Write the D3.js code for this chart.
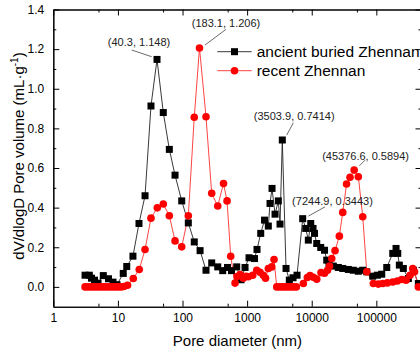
<!DOCTYPE html>
<html><head><meta charset="utf-8">
<script src="https://cdn.jsdelivr.net/npm/d3@7"></script>
<style>body{margin:0;background:#fff;overflow:hidden} svg{display:block;font-family:Arial,"Liberation Sans",sans-serif}</style>
</head><body><svg id="c" width="420" height="353"></svg>
<script>
// ---- data (pore diameter in nm, dV/dlogD in mL/g) ----
const ancientX = [3.10,3.61,3.90,4.34,4.92,5.94,7.15,8.40,9.68,12.1,13.7,17.1,21.2,26.3,32.5,40.3,50.4,62.5,76.6,97.2,123,152,187,231,283,351,419,497,573,690,804,928,1070,1302,1423,1624,1859,2129,2262,2429,2704,3041,3231,3503.9,4001,4501,5134,5921,7244.9,8074,8860,9650,10474,11050,11950,13780,15780,17070,18530,21600,25810,30200,36860,44060,52650,61600,71030,87970,103600,121200,144900,179500,201800,214500,227000,261800,312900,374000,446900];
const ancientY = [0.059,0.059,0.044,0.034,0.019,0.057,0.041,0.024,0.011,0.068,0.103,0.155,0.320,0.460,0.913,1.148,0.880,0.694,0.564,0.434,0.323,0.227,0.183,0.084,0.121,0.101,0.082,0.098,0.082,0.101,0.036,0.098,0.147,0.143,0.189,0.270,0.337,0.307,0.421,0.497,0.367,0.434,0.317,0.7414,0.093,0.034,0.046,0.059,0.3443,0.295,0.236,0.320,0.295,0.270,0.219,0.199,0.185,0.135,0.115,0.105,0.098,0.093,0.088,0.084,0.079,0.084,0.076,0.054,0.059,0.064,0.098,0.169,0.194,0.169,0.110,0.093,0.042,0.084,0.017];
const recentX = [3.10,3.44,3.83,4.27,4.75,5.28,5.88,6.54,7.28,8.10,9.02,10.0,11.2,12.4,14.1,17.3,21.4,26.3,32.5,40.7,50.4,62.5,76.6,97.2,123,152,183.1,231,283,351,431,489,557,650,698,777,873,962,1044,1221,1408,1584,1781,1927,2129,2403,2609,2872,3173,3507,3861,4251,4697,5191,5776,7413,8551,9412,10590,11950,13930,15780,17560,18860,20400,22950,26750,30200,34570,39160,45376.6,52650,61600,71030,89870,107400,125600,148100,179500,211400,247300,288300,332500,366000,390200,446900];
const recentY = [0,0,0,0,0,0,0,0,0,0,0,0,0,0.002,0.008,0.042,0.088,0.189,0.347,0.399,0.418,0.359,0.232,0.202,0.359,0.856,1.206,0.859,0.472,0.408,0.522,0.434,0.155,0.019,0.052,0.062,0.044,0.054,0.051,0.059,0.084,0.074,0.059,0.044,0.093,0.101,0.138,0,0,0,0,0,0,0,0,0.017,0.047,0.057,0.049,0.039,0.072,0.069,0.084,0.105,0.143,0.183,0.256,0.376,0.519,0.553,0.5894,0.556,0.354,0.076,0.017,0.014,0.017,0.020,0.025,0.030,0.037,0.034,0.059,0.093,0.076,0];
const seriesNames = ["ancient buried Zhennan", "recent Zhennan"];
const xTickValues = [1,10,100,1000,10000,100000];
const xMinorValues = [5,50,500,5000,50000];
const yTickValues = [0,0.2,0.4,0.6,0.8,1.0,1.2,1.4];
const yMinorValues = [0.1,0.3,0.5,0.7,0.9,1.1,1.3];
const annotX = [40.3,183.1,3503.9,45376.6,7244.9];
const annotY = [1.148,1.206,0.7414,0.5894,0.3443];
const annotLabels = ["(40.3, 1.148)","(183.1, 1.206)","(3503.9, 0.7414)","(45376.6, 0.5894)","(7244.9, 0.3443)"];
// layout offsets for annotations (text centre, leader start, leader end) relative to point
const annotLayout = [
  {tx:-18,ty:-17.7, x1:-25.3,y1:-9.4, x2:-5.3,y2:-2.7},
  {tx:26.5,ty:-24.6, x1:26.5,y1:-18.6, x2:5.5,y2:-2.9},
  {tx:11.9,ty:-23.9, x1:11,y1:-17.2, x2:4.4,y2:-4.9},
  {tx:11.4,ty:-14.3, x1:10.9,y1:-10, x2:5.2,y2:-4.3},
  {tx:29.8,ty:-17.8, x1:22.3,y1:-11.8, x2:5.6,y2:-2.5}
];

const L = 53.3, R = 421.5, T = 9.5, B = 306.7;
const svg = d3.select("#c");
const x = d3.scaleLog().domain([1, 5e5]).range([L, R]);
const y = d3.scaleLinear().domain([-0.1, 1.4]).range([B, T]);

// axes
const fmtX = d => String(d);
const gB = svg.append("g").attr("transform",`translate(0,${B})`)
  .call(d3.axisBottom(x).tickValues(xTickValues).tickFormat(fmtX).tickSizeInner(-6).tickSizeOuter(0).tickPadding(7));
const gBm = svg.append("g").attr("transform",`translate(0,${B})`)
  .call(d3.axisBottom(x).tickValues(xMinorValues).tickFormat("").tickSizeInner(-3).tickSizeOuter(0));
const gT = svg.append("g").attr("transform",`translate(0,${T})`)
  .call(d3.axisTop(x).tickValues(xTickValues).tickFormat("").tickSizeInner(-6).tickSizeOuter(0));
const gTm = svg.append("g").attr("transform",`translate(0,${T})`)
  .call(d3.axisTop(x).tickValues(xMinorValues).tickFormat("").tickSizeInner(-3).tickSizeOuter(0));
const gL = svg.append("g").attr("transform",`translate(${L},0)`)
  .call(d3.axisLeft(y).tickValues(yTickValues).tickFormat(d3.format(".1f")).tickSizeInner(-6).tickSizeOuter(0).tickPadding(9));
const gLm = svg.append("g").attr("transform",`translate(${L},0)`)
  .call(d3.axisLeft(y).tickValues(yMinorValues).tickFormat("").tickSizeInner(-3).tickSizeOuter(0));
const gR = svg.append("g").attr("transform",`translate(${R},0)`)
  .call(d3.axisRight(y).tickValues(yTickValues).tickFormat("").tickSizeInner(-6).tickSizeOuter(0));
const gRm = svg.append("g").attr("transform",`translate(${R},0)`)
  .call(d3.axisRight(y).tickValues(yMinorValues).tickFormat("").tickSizeInner(-3).tickSizeOuter(0));
[gB,gBm,gT,gTm,gL,gLm,gR,gRm].forEach(g=>{
  g.selectAll("path").attr("stroke","#000").attr("stroke-width",1.1);
  g.selectAll("line").attr("stroke","#000").attr("stroke-width",1);
  g.selectAll("text").attr("font-size",12).attr("fill","#000").attr("font-family","Arial, 'Liberation Sans', sans-serif");
});

// axis titles
svg.append("text").attr("x",(L+R)/2).attr("y",346).attr("text-anchor","middle")
  .attr("font-size",15).text("Pore diameter (nm)");
const yt = svg.append("text").attr("transform",`translate(24,156) rotate(-90)`).attr("text-anchor","middle").attr("font-size",15);
yt.append("tspan").text("dV/dlogD Pore volume (mL·g");
yt.append("tspan").attr("font-size",10).attr("dy",-6).text("-1");
yt.append("tspan").attr("dy",6).text(")");

// series
const ancient = ancientX.map((d,i)=>({x:d,y:ancientY[i]}));
const recent = recentX.map((d,i)=>({x:d,y:recentY[i]}));
const line = d3.line().x(d=>x(d.x)).y(d=>y(d.y));
const plot = svg.append("g");
plot.append("path").datum(ancient).attr("d",line).attr("fill","none").attr("stroke","#222").attr("stroke-width",0.9);
plot.append("path").datum(recent).attr("d",line).attr("fill","none").attr("stroke","#ff3030").attr("stroke-width",0.9);
plot.selectAll("rect.a").data(ancient).join("rect").attr("class","a")
  .attr("x",d=>x(d.x)-3.5).attr("y",d=>y(d.y)-3.5).attr("width",7).attr("height",7).attr("fill","#000");
plot.selectAll("circle.r").data(recent).join("circle").attr("class","r")
  .attr("cx",d=>x(d.x)).attr("cy",d=>y(d.y)).attr("r",3.8).attr("fill","#ff0000");

// annotations
annotX.forEach((ax,i)=>{
  const px = x(ax), py = y(annotY[i]), o = annotLayout[i];
  svg.append("line").attr("x1",px+o.x1).attr("y1",py+o.y1).attr("x2",px+o.x2).attr("y2",py+o.y2)
    .attr("stroke","#444").attr("stroke-width",0.8);
  svg.append("text").attr("x",px+o.tx).attr("y",py+o.ty).attr("text-anchor","middle").attr("dominant-baseline","central")
    .attr("font-size",11).attr("fill","#222").text(annotLabels[i]);
});

// legend
const lg = svg.append("g");
[0,1].forEach(i=>{
  const ly = 51.7 + i*19;
  lg.append("line").attr("x1",217.3).attr("x2",251.7).attr("y1",ly).attr("y2",ly)
    .attr("stroke", i===0?"#222":"#ff3030").attr("stroke-width",0.9);
  if(i===0) lg.append("rect").attr("x",234.5-3.5).attr("y",ly-3.5).attr("width",7).attr("height",7).attr("fill","#000");
  else lg.append("circle").attr("cx",234.5).attr("cy",ly).attr("r",3.8).attr("fill","#ff0000");
  lg.append("text").attr("x",256.7).attr("y",ly).attr("dominant-baseline","central").attr("font-size",15.5).text(seriesNames[i]);
});
</script></body></html>
